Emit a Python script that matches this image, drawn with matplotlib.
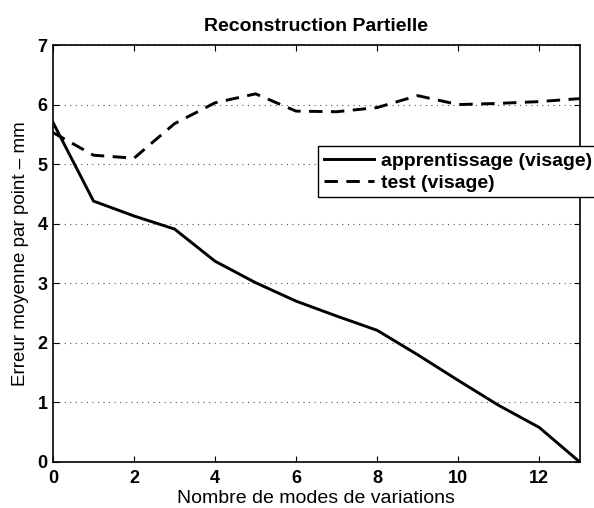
import matplotlib
matplotlib.use("Agg")
import matplotlib.pyplot as plt

# Reconstruction error per number of variation modes
modes = list(range(14))
apprentissage = [5.70, 4.38, 4.13, 3.91, 3.37, 3.01, 2.70, 2.45, 2.21, 1.80, 1.37, 0.95, 0.58, 0.00]
test = [5.53, 5.15, 5.10, 5.68, 6.03, 6.18, 5.89, 5.88, 5.95, 6.15, 6.00, 6.02, 6.05, 6.10]

xticks = [0, 2, 4, 6, 8, 10, 12]
yticks = [0, 1, 2, 3, 4, 5, 6, 7]

plt.rcParams['font.family'] = ['Liberation Sans', 'DejaVu Sans']

fig = plt.figure(figsize=(5.94, 5.08), dpi=100)
ax = fig.add_axes([0.0892, 0.0906, 0.8868, 0.8208])

ax.plot(modes, apprentissage, color='black', lw=2.1, solid_joinstyle='miter',
        label='apprentissage (visage)')
ax.plot(modes, test, color='black', lw=2.1, dashes=(4.6, 2.9),
        label='test (visage)')

ax.set_xlim(0, 13)
ax.set_ylim(0, 7)
ax.set_xticks(xticks)
ax.set_yticks(yticks)
ax.tick_params(direction='in', top=True, right=True, length=4, width=0.8,
               labelsize=13)
ax.tick_params(axis='x', pad=6)
ax.tick_params(axis='y', pad=4)
for lab in ax.get_xticklabels() + ax.get_yticklabels():
    lab.set_fontweight('bold')

ax.yaxis.grid(True, linestyle=(0, (1, 4)), color='#555555', lw=0.8)
ax.set_axisbelow(True)
for sp in ax.spines.values():
    sp.set_linewidth(1.2)

ax.set_title('Reconstruction Partielle', fontsize=14, fontweight='bold', pad=10)
ax.set_xlabel('Nombre de modes de variations', fontsize=14, labelpad=2)
ax.set_ylabel('Erreur moyenne par point \u2013 mm', fontsize=13.5, labelpad=6)

leg = ax.legend(loc='upper left', bbox_to_anchor=(0.503, 0.757), fancybox=False,
                framealpha=1, edgecolor='black', borderaxespad=0,
                prop={'size': 14, 'weight': 'bold'}, handlelength=2.6,
                borderpad=0.3, labelspacing=0.22, handletextpad=0.35)
leg.get_frame().set_linewidth(1.0)

fig.savefig('out.png', dpi=100)
